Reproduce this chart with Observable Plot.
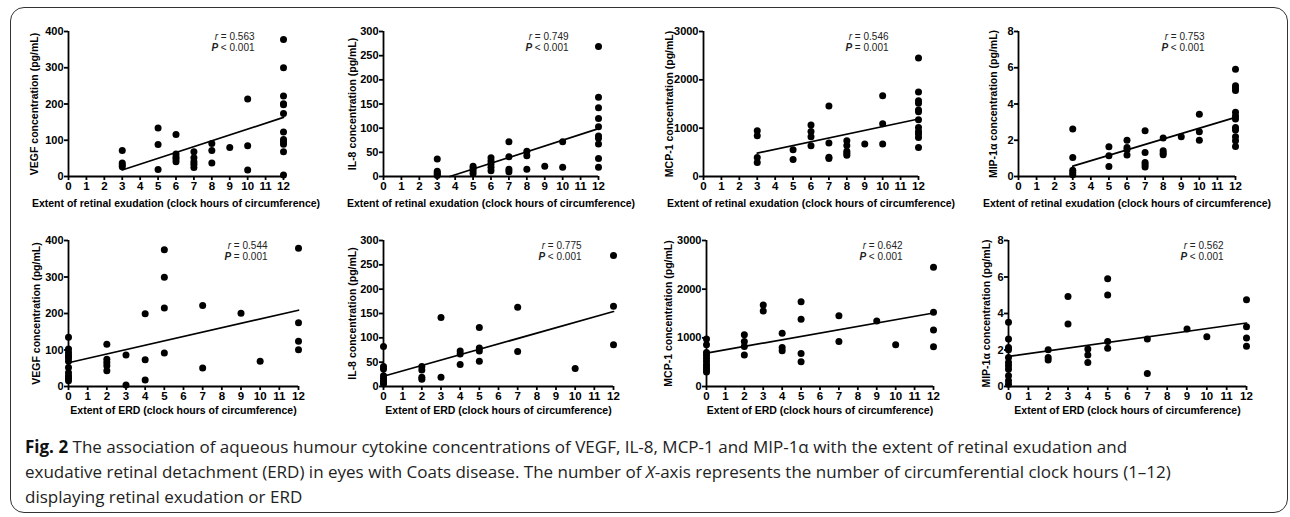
<!DOCTYPE html>
<html>
<head>
<meta charset="utf-8">
<script src="https://cdn.jsdelivr.net/npm/d3@7"></script>
<script src="https://cdn.jsdelivr.net/npm/@observablehq/plot@0.6"></script>
<style>
  html, body { margin: 0; padding: 0; background: #fff; }
  #wrap { position: relative; width: 1290px; height: 517px; overflow: hidden; }
  #frame { position: absolute; left: 10px; top: 7px; width: 1276px; height: 504px; border: 1.6px solid #333; border-radius: 14px; }
  .panel { position: absolute; }
  #caption { position: absolute; left: 25px; top: 434px; font-family: "Open Sans", "Noto Sans", sans-serif; font-size: 17px; line-height: 25px; color: #222; white-space: nowrap; }
  #caption b { color: #111; }
</style>
</head>
<body>
<div id="wrap">
  <div id="frame"></div>
  <div id="caption"><b>Fig. 2</b> The association of aqueous humour cytokine concentrations of VEGF, IL-8, MCP-1 and MIP-1α with the extent of retinal exudation and<br>exudative retinal detachment (ERD) in eyes with Coats disease. The number of <i>X</i>-axis represents the number of circumferential clock hours (1–12)<br>displaying retinal exudation or ERD</div>
</div>
<script>
// ---------- data ----------
const xTicks = [0,1,2,3,4,5,6,7,8,9,10,11,12];
const exuLabel = "Extent of retinal exudation (clock hours of circumference)";
const erdLabel = "Extent of ERD (clock hours of circumference)";

const exuVEGF = [[3,72],[3,37],[3,32],[3,27],[5,134],[5,88],[5,19],[6,116],[6,62],[6,54],[6,48],[6,41],[7,68],[7,52],[7,41],[7,34],[7,25],[8,91],[8,72],[8,37],[9,80],[10,214],[10,85],[10,18],[12,378],[12,300],[12,222],[12,201],[12,198],[12,174],[12,123],[12,102],[12,96],[12,89],[12,68],[12,4]];
const exuVEGFfit = [[3,18],[12,163]];

const exuIL8 = [[3,36],[3,11],[3,8],[3,5],[3,2],[5,21],[5,17],[5,12],[5,6],[6,39],[6,32],[6,26],[6,19],[6,12],[7,72],[7,41],[7,15],[7,10],[8,52],[8,43],[8,15],[9,21],[10,72],[10,19],[12,269],[12,164],[12,142],[12,120],[12,103],[12,84],[12,79],[12,67],[12,37],[12,19]];
const exuIL8fit = [[3.7,0],[12,99]];

const exuMCP1 = [[3,947],[3,843],[3,394],[3,290],[5,553],[5,352],[6,1064],[6,933],[6,822],[6,636],[7,1458],[7,691],[7,400],[7,370],[8,740],[8,640],[8,520],[8,480],[8,440],[9,670],[10,1673],[10,1092],[10,670],[12,2454],[12,1749],[12,1569],[12,1514],[12,1376],[12,1341],[12,1175],[12,1016],[12,933],[12,878],[12,809],[12,601]];
const exuMCP1fit = [[3,484],[12,1189]];

const exuMIP = [[3,2.62],[3,1.05],[3,0.35],[3,0.22],[3,0.09],[5,1.64],[5,1.14],[5,0.55],[6,2.0],[6,1.6],[6,1.47],[6,1.18],[7,2.52],[7,1.33],[7,0.77],[7,0.65],[7,0.53],[8,2.12],[8,1.42],[8,1.29],[8,1.2],[9,2.19],[10,3.43],[10,2.47],[10,2.0],[12,5.92],[12,5.01],[12,4.88],[12,4.74],[12,3.54],[12,3.34],[12,3.17],[12,2.71],[12,2.56],[12,2.19],[12,1.97],[12,1.66]];
const exuMIPfit = [[3,0.57],[12,3.26]];

const erdVEGF = [[0,135],[0,103],[0,93],[0,85],[0,78],[0,69],[0,52],[0,38],[0,29],[0,22],[0,16],[2,116],[2,75],[2,66],[2,57],[2,43],[3,86],[3,4],[4,199],[4,73],[4,18],[5,375],[5,299],[5,215],[5,92],[7,222],[7,51],[9,201],[10,69],[12,379],[12,175],[12,124],[12,101]];
const erdVEGFfit = [[0,65],[12,209]];

const erdIL8 = [[0,82],[0,41],[0,36],[0,22],[0,17],[0,12],[0,8],[0,5],[2,41],[2,34],[2,19],[2,15],[3,142],[3,19],[4,73],[4,67],[4,45],[5,121],[5,79],[5,73],[5,52],[7,163],[7,72],[10,37],[12,269],[12,165],[12,86]];
const erdIL8fit = [[0,21],[12,154]];

const erdMCP1 = [[0,975],[0,860],[0,700],[0,640],[0,580],[0,520],[0,450],[0,400],[0,350],[0,300],[2,1064],[2,927],[2,824],[2,645],[3,1675],[3,1551],[4,1092],[4,803],[4,735],[5,1744],[5,1380],[5,680],[5,508],[7,1455],[7,927],[9,1345],[10,858],[12,2451],[12,1524],[12,1160],[12,817]];
const erdMCP1fit = [[0,686],[12,1510]];

const erdMIP = [[0,3.52],[0,2.6],[0,2.14],[0,2.01],[0,1.59],[0,1.32],[0,1.14],[0,0.95],[0,0.59],[0,0.31],[0,0.13],[2,2.01],[2,1.59],[2,1.45],[3,4.93],[3,3.42],[4,2.05],[4,1.72],[4,1.32],[5,5.9],[5,5.02],[5,2.47],[5,2.1],[7,2.6],[7,0.71],[9,3.15],[10,2.73],[12,4.76],[12,3.28],[12,2.66],[12,2.2]];
const erdMIPfit = [[0,1.65],[12,3.48]];

const yTicksVEGF = [0,100,200,300,400];
const yTicksIL8 = [0,50,100,150,200,250,300];
const yTicksMCP1 = [0,1000,2000,3000];
const yTicksMIP = [0,2,4,6,8];

const yLabelVEGF = "VEGF concentration (pg/mL)";
const yLabelIL8 = "IL-8 concentration (pg/mL)";
const yLabelMCP1 = "MCP-1 concentration (pg/mL)";
const yLabelMIP = "MIP-1α concentration (pg/mL)";

const rValues = ["0.563","0.749","0.546","0.753","0.544","0.775","0.642","0.562"];
const pValues = ["< 0.001","< 0.001","= 0.001","< 0.001","= 0.001","< 0.001","< 0.001","< 0.001"];

const panels = [
  {data: exuVEGF, fit: exuVEGFfit, yTicks: yTicksVEGF, yLabel: yLabelVEGF, xLabel: exuLabel},
  {data: exuIL8, fit: exuIL8fit, yTicks: yTicksIL8, yLabel: yLabelIL8, xLabel: exuLabel},
  {data: exuMCP1, fit: exuMCP1fit, yTicks: yTicksMCP1, yLabel: yLabelMCP1, xLabel: exuLabel},
  {data: exuMIP, fit: exuMIPfit, yTicks: yTicksMIP, yLabel: yLabelMIP, xLabel: exuLabel},
  {data: erdVEGF, fit: erdVEGFfit, yTicks: yTicksVEGF, yLabel: yLabelVEGF, xLabel: erdLabel},
  {data: erdIL8, fit: erdIL8fit, yTicks: yTicksIL8, yLabel: yLabelIL8, xLabel: erdLabel},
  {data: erdMCP1, fit: erdMCP1fit, yTicks: yTicksMCP1, yLabel: yLabelMCP1, xLabel: erdLabel},
  {data: erdMIP, fit: erdMIPfit, yTicks: yTicksMIP, yLabel: yLabelMIP, xLabel: erdLabel}
];

// ---------- layout (page pixels of each plot frame) ----------
const frames = [
  {L: 68, R: 283, T: 31, B: 176, yOff: 34, annDx: -29, xOff: 30},
  {L: 383, R: 598, T: 31, B: 176, yOff: 31, annDx: -30, xOff: 30},
  {L: 703, R: 918, T: 31, B: 176, yOff: 34, annDx: -30, xOff: 30},
  {L: 1018, R: 1235, T: 31, B: 176, yOff: 25, annDx: -31, xOff: 30},
  {L: 68, R: 298, T: 240, B: 386, yOff: 32, annDx: -31, xOff: 27},
  {L: 383, R: 613, T: 240, B: 386, yOff: 31, annDx: -32, xOff: 27},
  {L: 706, R: 933, T: 240, B: 386, yOff: 38, annDx: -31, xOff: 27},
  {L: 1008, R: 1246, T: 240, B: 386, yOff: 22, annDx: -23, xOff: 27}
];
const ML = 64, MR = 16, MT = 20, MB = 40;
const FONT = "'Liberation Sans', Arial, Helvetica, sans-serif";

const wrap = document.getElementById("wrap");
panels.forEach((p, i) => {
  const f = frames[i];
  const yMax = p.yTicks[p.yTicks.length - 1];
  const chart = Plot.plot({
    width: (f.R - f.L) + ML + MR,
    height: (f.B - f.T) + MT + MB,
    marginLeft: ML, marginRight: MR, marginTop: MT, marginBottom: MB,
    x: {domain: [0, 12]},
    y: {domain: [0, yMax]},
    style: {fontFamily: FONT, fontSize: "11px", fontWeight: "bold", color: "#000", background: "transparent", overflow: "visible"},
    marks: [
      Plot.axisX(xTicks, {tickSize: 4, tickPadding: 1, strokeWidth: 1.8, label: null, fontWeight: "bold", fontSize: 11.5, tickFormat: d => String(d)}),
      Plot.axisY(p.yTicks, {tickSize: 4, tickPadding: 1, strokeWidth: 1.8, label: null, fontWeight: "bold", fontSize: 11, tickFormat: d => String(d)}),
      Plot.ruleX([0], {stroke: "#000", strokeWidth: 1.8}),
      Plot.ruleY([0], {stroke: "#000", strokeWidth: 1.8}),
      Plot.line(p.fit, {x: d => d[0], y: d => d[1], stroke: "#000", strokeWidth: 1.7}),
      Plot.dot(p.data, {x: d => d[0], y: d => d[1], r: 3.5, fill: "#000"}),
      Plot.text([p.yLabel], {frameAnchor: "left", textAnchor: "middle", rotate: -90, dx: -f.yOff, fontSize: 10.5, fontWeight: "bold", fill: "#000"}),
      Plot.text([p.xLabel], {frameAnchor: "bottom", textAnchor: "middle", dy: f.xOff, fontSize: 10.5, fontWeight: "bold", fill: "#000"}),
      Plot.text(["r = " + rValues[i]], {frameAnchor: "top-right", textAnchor: "end", dx: f.annDx, dy: 1, fontSize: 10, fontWeight: "normal", fill: "#222"}),
      Plot.text(["P " + pValues[i]], {frameAnchor: "top-right", textAnchor: "end", dx: f.annDx, dy: 12.5, fontSize: 10, fontWeight: "normal", fill: "#222"})
    ]
  });
  chart.classList.add("panel");
  chart.style.left = (f.L - ML) + "px";
  chart.style.top = (f.T - MT) + "px";
  // italic r and bold-italic P
  chart.querySelectorAll("text").forEach(t => {
    const s = t.textContent;
    const m = s.match(/^(r|P)( .*)$/);
    if (m && (s.startsWith("r = ") || s.startsWith("P "))) {
      t.textContent = "";
      const a = document.createElementNS("http://www.w3.org/2000/svg", "tspan");
      a.textContent = m[1];
      a.setAttribute("font-style", "italic");
      if (m[1] === "P") a.setAttribute("font-weight", "bold");
      const b = document.createElementNS("http://www.w3.org/2000/svg", "tspan");
      b.textContent = m[2];
      t.appendChild(a); t.appendChild(b);
    }
  });
  wrap.appendChild(chart);
});
</script>
</body>
</html>
